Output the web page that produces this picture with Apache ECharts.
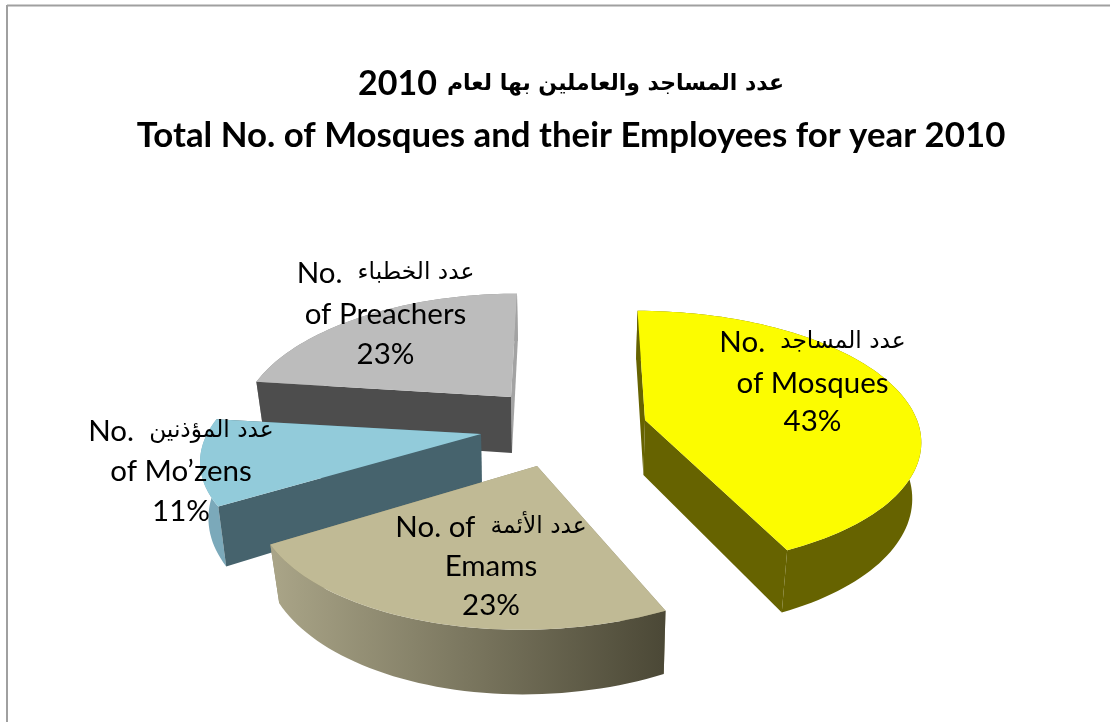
<!DOCTYPE html>
<html><head><meta charset="utf-8">
<style>html,body{margin:0;padding:0;background:#fff}#c{width:1110px;height:722px}</style>
<script src="https://cdn.jsdelivr.net/npm/echarts@6/dist/echarts.min.js"></script>
</head><body><div id="c"></div>
<script>
const titleArabic = 'عدد المساجد والعاملين بها لعام';
const titleYear = '2010';
const titleEnglish = 'Total No. of Mosques and their Employees for year 2010';
const namesArabic = ['عدد المساجد', 'عدد الأئمة', 'عدد المؤذنين', 'عدد الخطباء'];
const namesEnglish = [['No.', 'of Mosques'], ['No. of', 'Emams'], ['No.', 'of Mo’zens'], ['No.', 'of Preachers']];
const values = [43, 23, 11, 23];
const drawOrder = [3, 2, 1, 0];

// projection of each exploded slice (layout, not data)
const views = [
  {cx:645, cy:420, rx:272, ry:125, p:0.145, vx:586, h:55, top:'#fcfc00', start:'#666300', end:'#666300', outer:'#666300', lx:812.5, ly:[342,383,421]},
  {cx:537, cy:466, rx:274, ry:131, p:0.2, vx:600, h:53, top:'#c0ba95', start:'#8f8a6c', end:'#8f8a6c', grad:['#aaa588','#4b4836'], outerLast:true, lx:491, ly:[527,566,605]},
  {cx:481, cy:434, rx:274, ry:121, p:0.2, vx:511, h:54, top:'#92cbda', start:'#46636d', end:'#46636d', outer:'#7ba9ba', lx:181, ly:[431,471,511]},
  {cx:511, cy:397, rx:264, ry:124, p:0.2, vx:547, h:56, top:'#bcbcbc', start:'#4d4d4d', end:'#a3a3a3', outer:'#8a8a8a', lx:385.5, ly:[273,314,354]}
];
const total = values.reduce((a, b) => a + b, 0);
const startShare = values.map((v, i) => values.slice(0, i).reduce((a, b) => a + b, 0) / total);

function project(v, theta, r) {
  const X = r * Math.sin(theta), Z = r * Math.cos(theta), w = 1 + v.p * Z;
  const x = v.vx + (v.cx - v.vx + v.rx * X) / w;
  const y = v.cy - v.ry * Z / w;
  return {
    t: [x, y],
    b: [v.vx + (x - v.vx) * 0.973, y + v.h / (1 + 0.9 * v.p * Z)]
  };
}
function wall(a, b, fill) {
  return {type:'polygon', shape:{points:[a.t, b.t, b.b, a.b]}, style:{fill}};
}
function renderSlice(params, api) {
  const i = api.value(0), v = views[i];
  const a0 = startShare[i] * 2 * Math.PI, a1 = (startShare[i] + api.value(1) / total) * 2 * Math.PI;
  const apex = project(v, 0, 0), arc = [];
  const n = Math.ceil((a1 - a0) / 0.03);
  for (let k = 0; k <= n; k++) arc.push(project(v, a0 + (a1 - a0) * k / n, 1));
  const outerFill = v.grad
    ? new echarts.graphic.LinearGradient(0, 0, 1, 0, [{offset:0, color:v.grad[0]}, {offset:1, color:v.grad[1]}])
    : v.outer;
  const outerPts = arc.map(q => q.t).concat(arc.map(q => q.b).reverse());
  const outer = {type:'polygon', shape:{points:outerPts}, style:{fill:outerFill}};
  const radial = [wall(apex, arc[arc.length - 1], v.end), wall(apex, arc[0], v.start)];
  const sides = v.outerLast ? radial.concat([outer]) : [outer].concat(radial);
  return {type:'group', children:sides.concat([
    {type:'polygon', shape:{points:[apex.t].concat(arc.map(q => q.t))}, style:{fill:v.top}}
  ])};
}
const latin = 'Lato, sans-serif', arabic = '"DejaVu Sans"';
const LABEL_SIZE = 29.5, ARABIC_SIZE = 23.3;
function renderLabel(params, api) {
  const i = api.value(0), v = views[i], names = namesEnglish[i];
  const rich = {l:{fontFamily:latin, fontSize:LABEL_SIZE, fill:'#000', color:'#000'},
                a:{fontFamily:arabic, fontSize:ARABIC_SIZE, fill:'#000', color:'#000'}};
  const line = (txt, y) => ({type:'text', style:{text:txt, rich, x:v.lx, y, align:'center', verticalAlign:'middle'}});
  return {type:'group', children:[
    line('{l|' + names[0] + '  }{a|' + namesArabic[i] + '}', v.ly[0]),
    line('{l|' + names[1] + '}', v.ly[1]),
    line('{l|' + api.value(1) + '%}', v.ly[2])
  ]};
}
const seriesData = drawOrder.map(i => ({value:[i, values[i]], name:namesEnglish[i].join(' ')}));
const chart = echarts.init(document.getElementById('c'), null, {renderer:'canvas'});
chart.setOption({
  animation:false,
  backgroundColor:'#fff',
  title:[
    {text:'{y|' + titleYear + '}  {a|' + titleArabic + '}', left:566, top:79, textAlign:'center', textVerticalAlign:'middle',
     textStyle:{color:'#000', rich:{
       y:{fontFamily:latin, fontWeight:'bold', fontSize:34, color:'#000'},
       a:{fontFamily:arabic, fontWeight:'bold', fontSize:22, color:'#000'}}}},
    {text:titleEnglish, left:566, top:131, textAlign:'center', textVerticalAlign:'middle',
     textStyle:{fontFamily:latin, fontWeight:'bold', fontSize:34.8, color:'#000'}}
  ],
  graphic:[
    {type:'line', shape:{x1:7, y1:5.5, x2:1110, y2:5.5}, style:{stroke:'#a0a0a0', lineWidth:2}},
    {type:'line', shape:{x1:7, y1:5, x2:7, y2:722}, style:{stroke:'#a0a0a0', lineWidth:2}}
  ],
  series:[
    {type:'custom', coordinateSystem:'none', renderItem:renderSlice, data:seriesData, z:2, silent:true, clip:false},
    {type:'custom', coordinateSystem:'none', renderItem:renderLabel, data:seriesData, z:3, silent:true, clip:false}
  ]
});
</script></body></html>
